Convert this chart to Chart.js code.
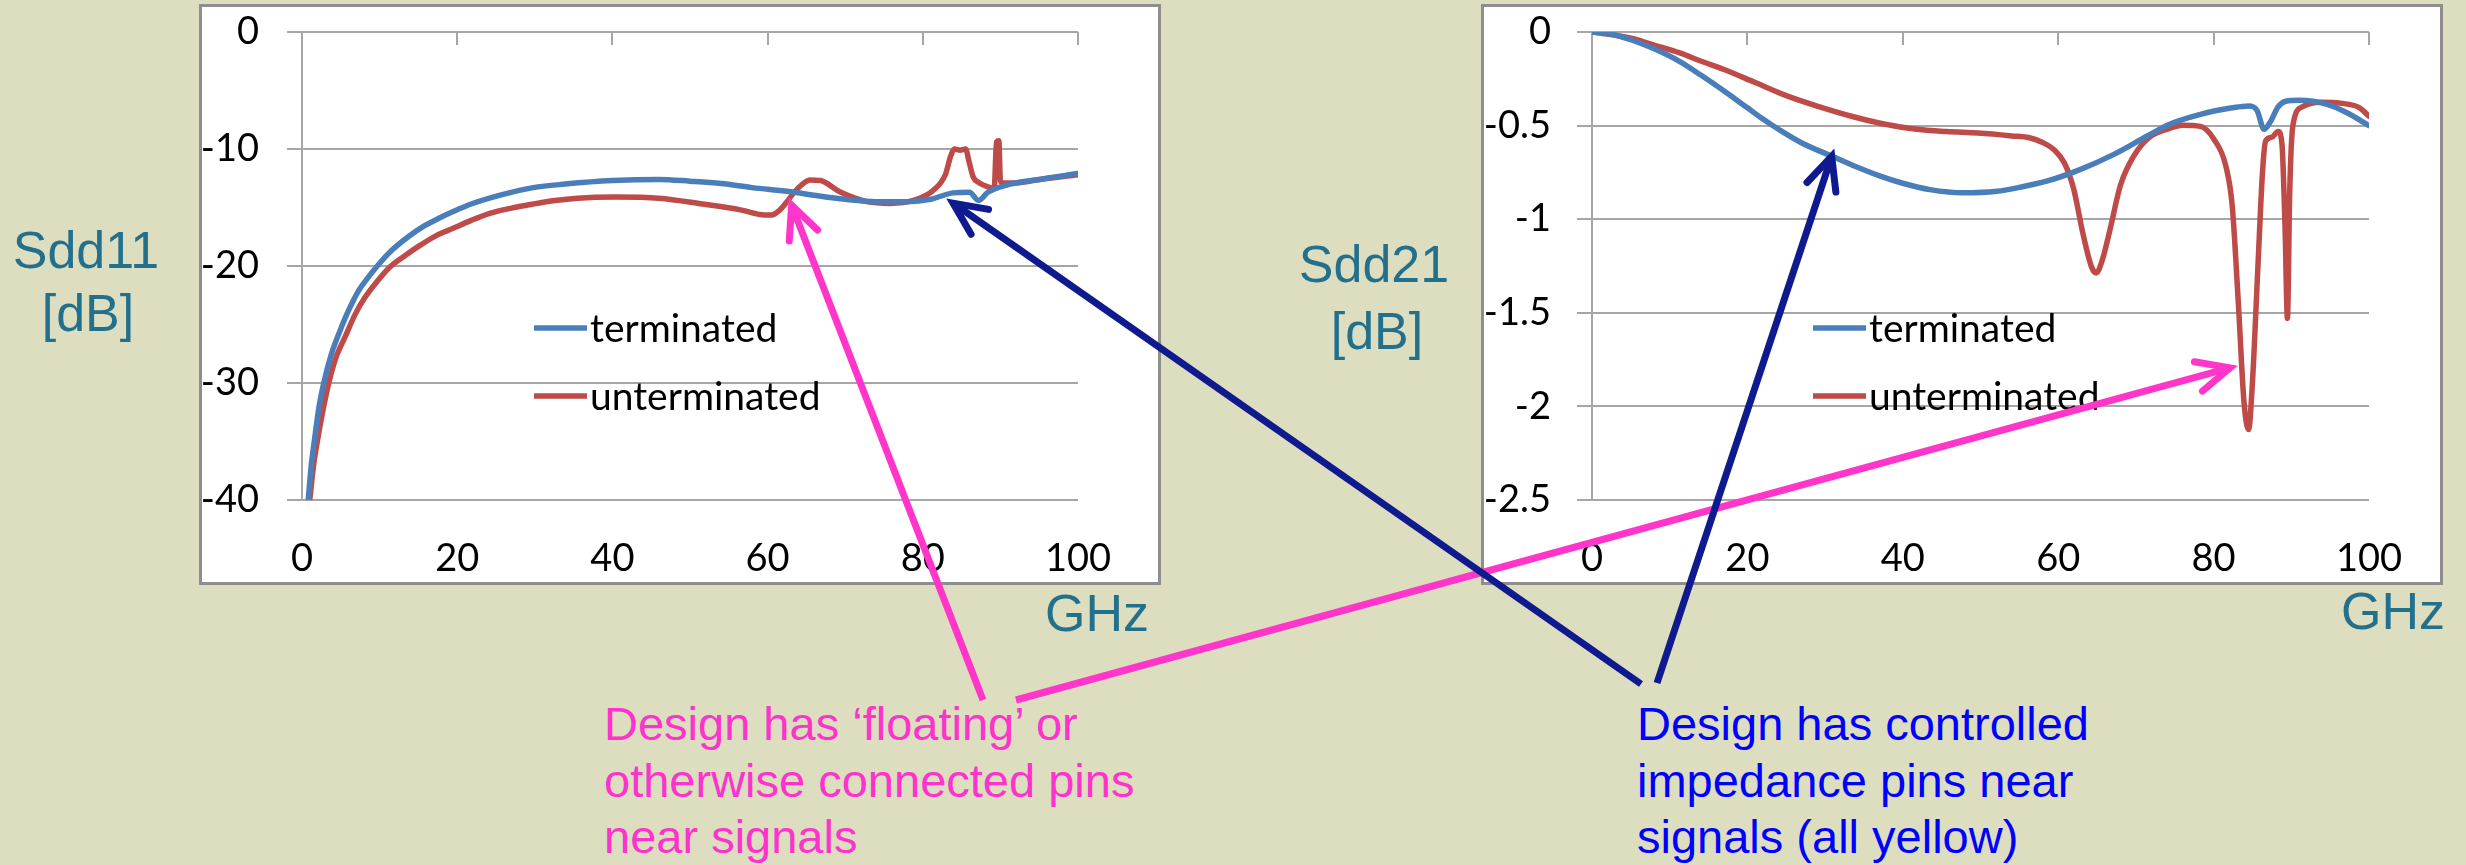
<!DOCTYPE html>
<html>
<head>
<meta charset="utf-8">
<script src="https://cdn.jsdelivr.net/npm/chart.js@4.4.1/dist/chart.umd.min.js"></script>
<style>
  html, body { margin: 0; padding: 0; }
  body {
    width: 2466px; height: 865px; position: relative; overflow: hidden;
    background: #DDDEC0;
    font-family: "Liberation Sans", Arial, sans-serif;
  }
  .box {
    position: absolute; top: 4px; width: 962px; height: 581px;
    box-sizing: border-box; border: 3px solid #8E8E8E; background: #fff;
  }
  .box canvas { display: block; }
  .lbl {
    position: absolute; width: 300px; text-align: center;
    color: #23708C; font-size: 52px; line-height: 62px; white-space: nowrap;
  }
  .note {
    position: absolute; font-size: 47px; line-height: 56.5px; white-space: nowrap;
  }
  #overlay { position: absolute; left: 0; top: 0; pointer-events: none; z-index: 10; }
</style>
</head>
<body>

<div class="box" style="left:199px"><canvas id="sdd11" width="956" height="575"></canvas></div>
<div class="box" style="left:1481px"><canvas id="sdd21" width="956" height="575"></canvas></div>

<div class="lbl" style="left:-64px; top:219px">Sdd11</div>
<div class="lbl" style="left:-62px; top:282px">[dB]</div>
<div class="lbl" style="left:1224px; top:233px">Sdd21</div>
<div class="lbl" style="left:1227px; top:300px">[dB]</div>
<div class="lbl" style="left:947px; top:582px">GHz</div>
<div class="lbl" style="left:2243px; top:580px">GHz</div>

<div class="note" style="left:604px; top:696px; color:#FF33CC">Design has ‘floating’ or<br>otherwise connected pins<br>near signals</div>
<div class="note" style="left:1637px; top:696px; color:#0000FF">Design has controlled<br>impedance pins near<br>signals (all yellow)</div>

<canvas id="overlay" width="2466" height="865"></canvas>

<script>
// ---- Sdd11 (return loss), GHz / dB ----
const freq11Term   = [0.8, 1.2, 1.6, 2.2, 2.8, 3.8, 4.8, 6, 7.3, 8.5, 9.7, 11.5, 13.7, 15.7, 17.7, 20, 21.8, 25.8, 29.8, 33.9, 40, 46, 50, 54, 58, 63, 66, 70, 74, 78, 81, 83.9, 86, 87.2, 88.4, 90.7, 95, 100];
const sdd11Term    = [-40, -37, -34.9, -32, -30, -27.5, -25.7, -23.8, -22.1, -21, -20, -18.7, -17.5, -16.6, -15.9, -15.2, -14.7, -13.9, -13.3, -13.0, -12.7, -12.6, -12.75, -12.95, -13.3, -13.65, -13.95, -14.3, -14.5, -14.5, -14.3, -13.75, -13.7, -14.4, -13.7, -13.1, -12.6, -12.1];

const freq11Unterm = [1.0, 1.5, 2, 2.8, 3.6, 4.5, 5.6, 6.8, 8.1, 9.7, 11.3, 13.3, 15.3, 17.3, 19.4, 21.8, 24.2, 27, 29.8, 32.6, 35.5, 40.3, 46, 51.6, 56.5, 59, 60.5, 61.6, 62.5, 63.3, 64.5, 65.5, 66.8, 69.3, 72.8, 75.8, 78.8, 81.4, 82.9, 83.6, 84.1, 84.8, 85.5, 86.0, 86.5, 87.3, 88.7, 89.2, 89.5, 89.8, 90.0, 90.3, 92, 95.1, 100];
const sdd11Unterm  = [-40, -37, -34.9, -32, -29.6, -27.6, -26, -24.2, -22.7, -21.3, -20.1, -19.1, -18.2, -17.4, -16.8, -16.1, -15.5, -15.05, -14.7, -14.4, -14.2, -14.1, -14.2, -14.7, -15.2, -15.6, -15.65, -15.2, -14.5, -13.8, -13.0, -12.66, -12.7, -13.66, -14.5, -14.65, -14.4, -13.5, -12.2, -10.6, -10.0, -10.1, -10.0, -11.2, -12.4, -12.9, -13.3, -13.4, -9.4, -9.3, -12.7, -12.9, -12.9, -12.6, -12.2];

// ---- Sdd21 (insertion loss), GHz / dB ----
const freq21Term   = [0, 2.5, 4.9, 8, 11.3, 14, 17, 20, 22, 24.2, 27, 30.9, 34, 37.1, 40, 43.5, 47.8, 52.1, 55, 58.5, 62.8, 67.1, 71.4, 74.2, 78.3, 82.4, 84.5, 85.6, 86.5, 87.3, 88.3, 89.3, 91, 94.7, 97.1, 100];
const sdd21Term    = [0, -0.012, -0.04, -0.09, -0.158, -0.23, -0.315, -0.405, -0.465, -0.525, -0.593, -0.664, -0.72, -0.77, -0.808, -0.842, -0.859, -0.851, -0.83, -0.797, -0.735, -0.655, -0.557, -0.495, -0.44, -0.405, -0.395, -0.42, -0.52, -0.48, -0.40, -0.37, -0.365, -0.388, -0.43, -0.5];

const freq21Unterm = [0, 4.9, 8, 11.3, 14, 17, 21, 25, 29.3, 33.4, 37.4, 41.5, 45.6, 49.7, 54, 56.3, 58, 59.5, 60.8, 62, 63.2, 64.3, 64.9, 65.7, 66.7, 68, 69.7, 71.8, 74.2, 76, 78.3, 80, 81.6, 82.4, 83.2, 83.9, 84.5, 85, 85.7, 86.3, 86.7, 87.5, 88.3, 88.8, 89.2, 89.5, 89.8, 90.2, 91.4, 93.9, 96.3, 98.8, 100];
const sdd21Unterm  = [0, -0.032, -0.07, -0.112, -0.155, -0.2, -0.27, -0.34, -0.4, -0.45, -0.49, -0.518, -0.532, -0.54, -0.555, -0.565, -0.59, -0.63, -0.7, -0.84, -1.08, -1.256, -1.287, -1.215, -1.05, -0.82, -0.664, -0.56, -0.517, -0.498, -0.504, -0.57, -0.72, -0.93, -1.46, -1.97, -2.124, -1.87, -1.256, -0.745, -0.582, -0.562, -0.531, -0.6, -1.05, -1.53, -0.85, -0.5, -0.4, -0.375, -0.38, -0.405, -0.45];

// ---- axis ticks ----
const freqTicks    = [0, 20, 40, 60, 80, 100];
const freqLabels   = ['0', '20', '40', '60', '80', '100'];
const sdd11Ticks   = [0, -10, -20, -30, -40];
const sdd11Labels  = ['0', '-10', '-20', '-30', '-40'];
const sdd21Ticks   = [0, -0.5, -1, -1.5, -2, -2.5];
const sdd21Labels  = ['0', '-0.5', '-1', '-1.5', '-2', '-2.5'];

const seriesNames  = ['terminated', 'unterminated'];

// ---- annotation arrows: tip anchored at (GHz, dB) on a chart, tail on the page ----
const arrowTips11  = [[63.1, -14.8], [83.9, -14.63]];
const arrowTips21  = [[30.85, -0.664], [82.1, -1.794]];

const BLUE = '#4A7EBB', RED = '#BE4B48', GRID = '#A6A6A6';
const PINK = '#FF36C9', NAVY = '#0E1A8E';

function pts(xs, ys) { return xs.map((x, i) => ({ x, y: ys[i] })); }

// Excel-style tick marks hanging inward from the top axis line
const topTicks = {
  id: 'topTicks',
  beforeDatasetsDraw(chart) {
    const { ctx, chartArea, scales } = chart;
    ctx.save();
    ctx.strokeStyle = GRID; ctx.lineWidth = 2;
    scales.x.ticks.forEach(t => {
      if (t.value === scales.x.min) return;
      const x = Math.round(scales.x.getPixelForValue(t.value));
      ctx.beginPath();
      ctx.moveTo(x, chartArea.top);
      ctx.lineTo(x, chartArea.top + 13);
      ctx.stroke();
    });
    ctx.restore();
  }
};

// legend placed inside the plot area
const innerLegend = {
  id: 'innerLegend',
  afterDatasetsDraw(chart, args, opts) {
    const { ctx, chartArea } = chart;
    ctx.save();
    chart.data.datasets.forEach((ds, i) => {
      const x = chartArea.left + opts.left;
      const y = chartArea.top + opts.top + i * opts.gap;
      ctx.strokeStyle = ds.borderColor; ctx.lineWidth = ds.borderWidth;
      ctx.beginPath(); ctx.moveTo(x, y); ctx.lineTo(x + opts.sample, y); ctx.stroke();
      ctx.fillStyle = '#000';
      ctx.font = opts.font;
      ctx.textBaseline = 'middle';
      ctx.textAlign = 'left';
      ctx.fillText(ds.label, x + opts.sample + 3, y + 1);
    });
    ctx.restore();
  }
};

function makeChart(id, cfg) {
  return new Chart(document.getElementById(id), {
    type: 'line',
    data: {
      datasets: [
        { label: seriesNames[0], data: cfg.term, borderColor: BLUE, borderWidth: 5.5 },
        { label: seriesNames[1], data: cfg.unterm, borderColor: RED, borderWidth: 5.5 }
      ]
    },
    options: {
      responsive: false,
      animation: false,
      parsing: false,
      elements: {
        point: { radius: 0 },
        line: { cubicInterpolationMode: 'monotone', borderCapStyle: 'round', borderJoinStyle: 'round' }
      },
      layout: { padding: { top: 25, right: cfg.padRight, left: 0, bottom: 0 } },
      scales: {
        x: {
          type: 'linear', min: 0, max: 100,
          afterBuildTicks: s => { s.ticks = freqTicks.map(v => ({ value: v })); },
          afterFit: s => { s.height = 82; s.paddingLeft = 0; s.paddingRight = 0; },
          grid: { display: false, drawTicks: false },
          border: { display: false },
          ticks: {
            padding: 36, color: '#000',
            font: { family: 'Lato', size: 38 },
            callback: v => freqLabels[freqTicks.indexOf(v)]
          }
        },
        y: {
          type: 'linear', min: cfg.yMin, max: 0,
          afterBuildTicks: s => { s.ticks = cfg.yTicks.map(v => ({ value: v })); },
          afterFit: s => { s.width = cfg.yWidth; s.paddingTop = 0; s.paddingBottom = 0; },
          grid: { color: GRID, lineWidth: 2, drawTicks: true, tickLength: 15 },
          border: { display: true, color: GRID, width: 2 },
          ticks: {
            padding: cfg.yPad, color: '#000',
            font: { family: 'Lato', size: 38 },
            callback: v => cfg.yLabels[cfg.yTicks.indexOf(v)]
          }
        }
      },
      plugins: {
        legend: { display: false },
        tooltip: { enabled: false },
        innerLegend: { left: cfg.legendLeft, top: 296, gap: 68, sample: 53, font: '39px Lato' }
      }
    },
    plugins: [topTicks, innerLegend]
  });
}

const chart11 = makeChart('sdd11', {
  term: pts(freq11Term, sdd11Term),
  unterm: pts(freq11Unterm, sdd11Unterm),
  yMin: -40, yTicks: sdd11Ticks, yLabels: sdd11Labels,
  yWidth: 100, yPad: 28, padRight: 80, legendLeft: 232
});

const chart21 = makeChart('sdd21', {
  term: pts(freq21Term, sdd21Term),
  unterm: pts(freq21Unterm, sdd21Unterm),
  yMin: -2.5, yTicks: sdd21Ticks, yLabels: sdd21Labels,
  yWidth: 108, yPad: 26, padRight: 71, legendLeft: 221
});

// ---- callout arrows drawn over both charts ----
function tipOnPage(chart, gx, db) {
  const r = chart.canvas.getBoundingClientRect();
  return {
    x: r.left + chart.scales.x.getPixelForValue(gx),
    y: r.top + chart.scales.y.getPixelForValue(db)
  };
}

function arrow(ctx, tail, tip, color) {
  ctx.strokeStyle = color;
  ctx.lineWidth = 7;
  ctx.lineCap = 'butt';
  ctx.beginPath(); ctx.moveTo(tail.x, tail.y); ctx.lineTo(tip.x, tip.y); ctx.stroke();
  const a = Math.atan2(tail.y - tip.y, tail.x - tip.x);
  const len = 36, spread = 25 * Math.PI / 180;
  ctx.lineCap = 'round';
  ctx.lineJoin = 'miter';
  ctx.beginPath();
  ctx.moveTo(tip.x + len * Math.cos(a + spread), tip.y + len * Math.sin(a + spread));
  ctx.lineTo(tip.x, tip.y);
  ctx.lineTo(tip.x + len * Math.cos(a - spread), tip.y + len * Math.sin(a - spread));
  ctx.stroke();
}

const octx = document.getElementById('overlay').getContext('2d');
arrow(octx, { x: 983, y: 700 },  tipOnPage(chart11, ...arrowTips11[0]), PINK);
arrow(octx, { x: 1016, y: 700 }, tipOnPage(chart21, ...arrowTips21[1]), PINK);
arrow(octx, { x: 1641, y: 684 }, tipOnPage(chart11, ...arrowTips11[1]), NAVY);
arrow(octx, { x: 1657, y: 683 }, tipOnPage(chart21, ...arrowTips21[0]), NAVY);
</script>
</body>
</html>
